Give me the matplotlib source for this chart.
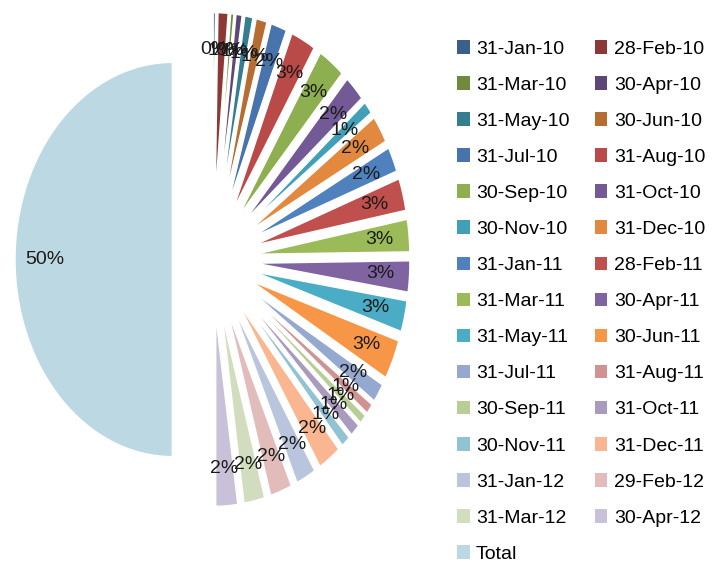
import matplotlib
matplotlib.use("Agg")
import matplotlib.pyplot as plt
from matplotlib.patches import Patch

plt.rcParams['font.family'] = ['Liberation Sans', 'DejaVu Sans']

months = ['31-Jan-10', '28-Feb-10', '31-Mar-10', '30-Apr-10', '31-May-10', '30-Jun-10',
          '31-Jul-10', '31-Aug-10', '30-Sep-10', '31-Oct-10', '30-Nov-10', '31-Dec-10',
          '31-Jan-11', '28-Feb-11', '31-Mar-11', '30-Apr-11', '31-May-11', '30-Jun-11',
          '31-Jul-11', '31-Aug-11', '30-Sep-11', '31-Oct-11', '30-Nov-11', '31-Dec-11',
          '31-Jan-12', '29-Feb-12', '31-Mar-12', '30-Apr-12']
month_share = [0.3, 1.1, 0.4, 0.7, 0.9, 1.2,
               1.7, 2.6, 2.8, 2.2, 1.1, 2.3,
               2.1, 2.7, 2.7, 2.6, 2.6, 3.3,
               1.6, 0.9, 0.8, 1.1, 1.0, 2.4,
               2.1, 2.3, 2.2, 2.3]
total_share = 50.0

colors = ['#3A5F8B', '#8C3836', '#71893F', '#5C4776', '#357D91', '#B66D31',
          '#4774AD', '#B94A47', '#8DAF50', '#735A96', '#41A0B8', '#E3893F',
          '#4F81BD', '#C0504D', '#9BBB59', '#8064A2', '#4BACC6', '#F79646',
          '#95A9D0', '#D09392', '#B9CD96', '#A99BBD', '#92C3D4', '#F9B690',
          '#B9C5DD', '#E1BCBB', '#D1DDBE', '#C9C1D8', '#BCD9E3']

labels = months + ['Total']
values = month_share + [total_share]

fig = plt.figure(figsize=(7.2, 5.65), dpi=100)
ax = fig.add_axes([0, 0, 1, 1])

wedges, _, autotexts = ax.pie(values, colors=colors, explode=[0.252] * len(values),
                              startangle=90, counterclock=False,
                              autopct=lambda p: '%d%%' % int(p + 0.5), pctdistance=0.81,
                              wedgeprops=dict(edgecolor='white', linewidth=1.5),
                              textprops=dict(fontsize=14, color='#1a1a1a'))

# the original pie is squeezed horizontally
ax.set_aspect('auto')
ax.set_xlim(-212.5 / 158, (720 - 212.5) / 158)
ax.set_ylim((259.5 - 565) / 197.5, 259.5 / 197.5)
ax.axis('off')

# row-wise legend order: even entries in first column, odd in second
order = list(range(0, len(labels), 2)) + list(range(1, len(labels), 2))
handles = [Patch(facecolor=colors[i], label=labels[i]) for i in order]
fig.legend(handles=handles, loc='upper left', bbox_to_anchor=(457 / 720, 1 - 40 / 565),
           ncol=2, frameon=False, fontsize=14, handlelength=0.65, handleheight=0.7,
           handletextpad=0.33, columnspacing=1.3, labelspacing=0.95,
           borderpad=0, borderaxespad=0)

fig.savefig('out.png', dpi=100)
